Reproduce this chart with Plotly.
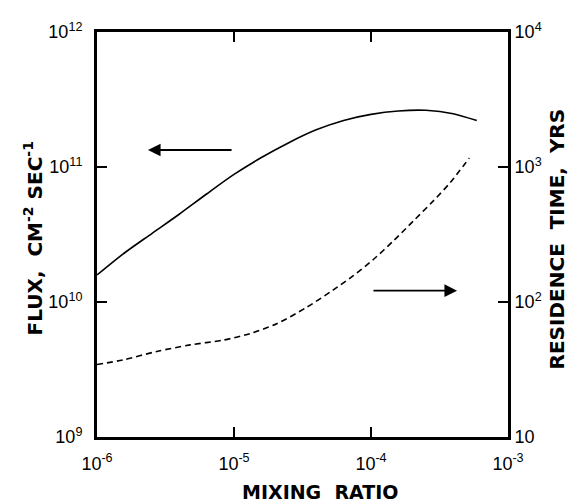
import plotly.graph_objects as go

# Flux curve (left axis), solid
flux_x = [1.0e-6, 1.585e-6, 2.512e-6, 3.981e-6, 6.31e-6, 1.0e-5, 1.585e-5, 2.512e-5,
          3.981e-5, 6.31e-5, 1.0e-4, 1.585e-4, 2.512e-4, 3.981e-4, 5.916e-4]
flux_y = [1.585e10, 2.307e10, 3.214e10, 4.467e10, 6.31e10, 8.81e10, 1.175e11, 1.514e11,
          1.884e11, 2.213e11, 2.455e11, 2.6e11, 2.63e11, 2.483e11, 2.208e11]

# Residence time curve (right axis), dashed
res_x = [1.0e-6, 1.556e-6, 2.729e-6, 4.775e-6, 8.356e-6, 1.309e-5, 2.051e-5, 3.396e-5,
         5.309e-5, 7.43e-5, 1.04e-4, 1.455e-4, 2.037e-4, 2.851e-4, 3.776e-4, 5.212e-4]
res_y = [34.4, 37.3, 43.0, 48.1, 52.2, 58.3, 69.0, 91.4,
         123.0, 156.7, 206.5, 283.1, 398.1, 561.0, 763.8, 1164.0]

# Tick labels
x_tickvals = [1e-6, 1e-5, 1e-4, 1e-3]
x_ticktext = ["10<sup>-6</sup>", "10<sup>-5</sup>", "10<sup>-4</sup>", "10<sup>-3</sup>"]
y_tickvals = [1e9, 1e10, 1e11, 1e12]
y_ticktext = ["10<sup>9</sup>", "10<sup>10</sup>", "10<sup>11</sup>", "10<sup>12</sup>"]
y2_tickvals = [10, 100, 1000, 10000]
y2_ticktext = ["10", "10<sup>2</sup>", "10<sup>3</sup>", "10<sup>4</sup>"]

# Axis titles
x_title = "<b>MIXING  RATIO</b>"
y_title = "<b>FLUX,  CM<sup>-2</sup> SEC<sup>-1</sup></b>"
y2_title = "<b>RESIDENCE  TIME,  YRS</b>"

# Arrow indicators (log10 positions): [x_tail, x_head, y]
flux_arrow = [-5.007, -5.628, 11.126]
res_arrow = [-3.993, -3.372, 2.084]

FONT = "Liberation Sans"
TFONT = "DejaVu Sans"

fig = go.Figure()
fig.add_trace(go.Scatter(x=flux_x, y=flux_y, mode="lines",
                         line=dict(color="black", width=1.6, shape="spline", smoothing=0.8),
                         yaxis="y", showlegend=False))
fig.add_trace(go.Scatter(x=res_x, y=res_y, mode="lines",
                         line=dict(color="black", width=1.6, dash="6px,4px", shape="spline", smoothing=0.8),
                         yaxis="y2", showlegend=False))

fig.add_annotation(x=flux_arrow[1], y=flux_arrow[2], ax=flux_arrow[0], ay=flux_arrow[2],
                   xref="x", yref="y", axref="x", ayref="y", text="", showarrow=True,
                   arrowhead=2, arrowsize=1.4, arrowwidth=1.8, arrowcolor="black")
fig.add_annotation(x=res_arrow[1], y=res_arrow[2], ax=res_arrow[0], ay=res_arrow[2],
                   xref="x", yref="y2", axref="x", ayref="y2", text="", showarrow=True,
                   arrowhead=2, arrowsize=1.4, arrowwidth=1.8, arrowcolor="black")

# Axis titles placed as annotations
fig.add_annotation(x=0.5426, y=-0.135, xref="paper", yref="paper", text=x_title, showarrow=False,
                   font=dict(family=TFONT, size=19, color="black"), xanchor="center", yanchor="middle")
fig.add_annotation(x=-0.156, y=0.49, xref="paper", yref="paper", text=y_title, showarrow=False,
                   textangle=-90, font=dict(family=TFONT, size=20, color="black"),
                   xanchor="center", yanchor="middle")
fig.add_annotation(x=1.119, y=0.49, xref="paper", yref="paper", text=y2_title, showarrow=False,
                   textangle=-90, font=dict(family=TFONT, size=20, color="black"),
                   xanchor="center", yanchor="middle")

axis_common = dict(showgrid=False, zeroline=False, showline=True, linecolor="black", linewidth=3,
                   ticks="inside", ticklen=10, tickwidth=1.5, tickcolor="black",
                   tickfont=dict(family=FONT, size=18, color="black"))

# page body has an 8px default margin, so the figure is sized 580x496
fig.update_layout(
    width=580, height=496,
    margin=dict(l=89, r=80, t=17, b=67),
    paper_bgcolor="white", plot_bgcolor="white",
    font=dict(family=FONT, color="black"),
    xaxis=dict(type="log", range=[-6, -3], tickvals=x_tickvals, ticktext=x_ticktext, mirror="ticks",
               ticklabelstandoff=8, **axis_common),
    yaxis=dict(type="log", range=[9, 12], tickvals=y_tickvals, ticktext=y_ticktext, mirror=True,
               ticklabelstandoff=8, **axis_common),
    yaxis2=dict(type="log", range=[1, 4], tickvals=y2_tickvals, ticktext=y2_ticktext,
                overlaying="y", side="right", **axis_common),
)

fig.write_html("out.html")
